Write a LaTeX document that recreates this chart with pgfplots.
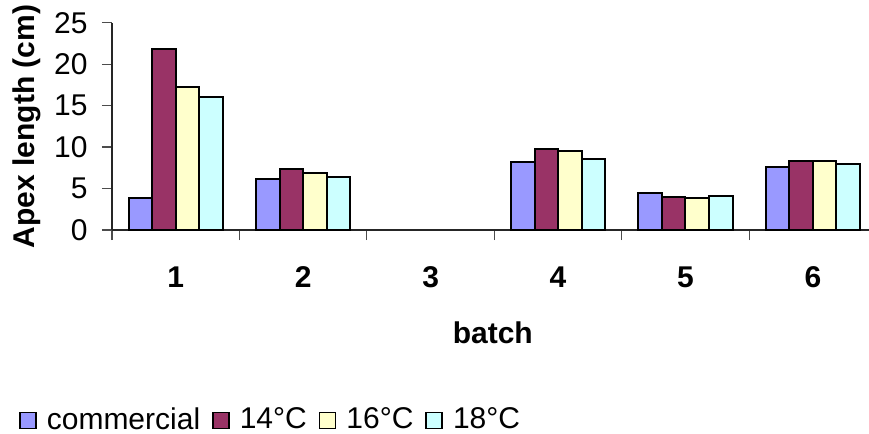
\documentclass[border=0pt]{standalone}
\usepackage{fontspec}
\setmainfont{Liberation Sans}
\usepackage{pgfplots}
\pgfplotsset{compat=1.18}
\definecolor{cComm}{HTML}{9999FF}
\definecolor{c14}{HTML}{993366}
\definecolor{c16}{HTML}{FFFFCC}
\definecolor{c18}{HTML}{CCFFFF}
\pgfplotsset{sqlegend/.style={legend image code/.code={\draw[##1, line width=0.8pt, draw=black] (0pt,-4pt) rectangle (8pt,4pt);}}}
\begin{document}
\fontsize{15pt}{18pt}\selectfont
\begin{tikzpicture}
\useasboundingbox (0,0) rectangle (434.5pt,217pt);
\begin{axis}[
  scale only axis,
  width=378.5pt, height=103.65pt,
  at={(56pt,102pt)}, anchor=south west,
  xmin=0.5, xmax=6.44, ymin=0, ymax=25,
  axis lines*=left,
  axis line style={black!85, line width=0.6pt},
  ybar=0pt, bar width=0.1845,
  xtick={1,2,3,4,5,6},
  minor xtick={0.5,1.5,2.5,3.5,4.5,5.5},
  major x tick style={draw=none},
  minor x tick style={black!70, line width=0.6pt},
  ytick={0,5,10,15,20,25},
  ytick style={black!70, line width=0.6pt},
  tick align=outside,
  major tick length=5pt, minor tick length=5pt,
  xticklabel style={font=\fontsize{15pt}{18pt}\selectfont\bfseries, yshift=-8pt},
  yticklabel style={font=\fontsize{15pt}{18pt}\selectfont, xshift=-2pt},
  /pgf/number format/assume math mode=true,
  ylabel={\bfseries Apex length (cm)},
  ylabel style={font=\fontsize{15pt}{18pt}\selectfont, at={(axis description cs:-0.112,0.5)}, anchor=center},
  xlabel={\bfseries batch},
  xlabel style={font=\fontsize{15pt}{18pt}\selectfont, at={(axis description cs:0.503,-0.497)}, anchor=center},
  legend columns=4,
  legend style={draw=none, fill=none, at={(axis description cs:-0.131,-0.919)}, anchor=west,
    font=\fontsize{15pt}{18pt}\selectfont,
    /tikz/every odd column/.append style={column sep=3pt},
    /tikz/every even column/.append style={column sep=4pt}},
]
\addplot[fill=cComm, draw=black, line width=1pt, sqlegend] coordinates {(1,3.8) (2,6.2) (4,8.15) (5,4.5) (6,7.6)};
\addplot[fill=c14, draw=black, line width=1pt, sqlegend] coordinates {(1,21.8) (2,7.4) (4,9.75) (5,4.0) (6,8.35)};
\addplot[fill=c16, draw=black, line width=1pt, sqlegend] coordinates {(1,17.3) (2,6.9) (4,9.5) (5,3.8) (6,8.35)};
\addplot[fill=c18, draw=black, line width=1pt, sqlegend] coordinates {(1,16.0) (2,6.4) (4,8.6) (5,4.05) (6,7.9)};
\legend{commercial, 14°C, 16°C, 18°C}
\end{axis}
\end{tikzpicture}
\end{document}
